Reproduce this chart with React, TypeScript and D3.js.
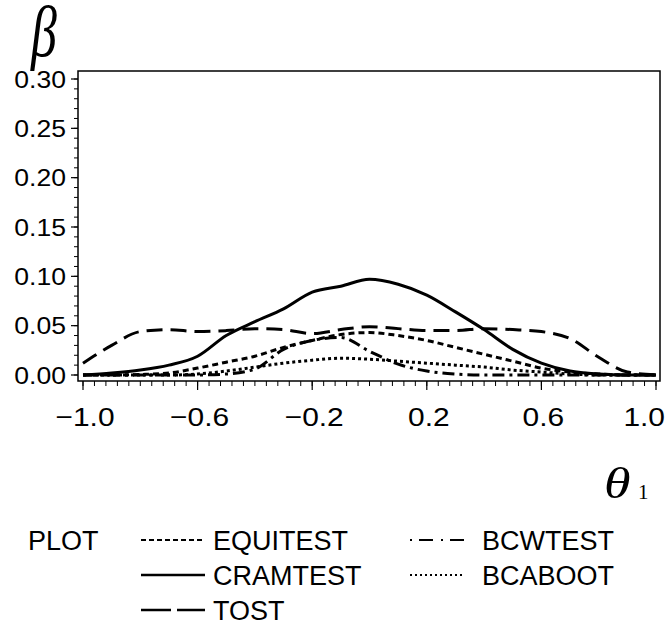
import React from 'react';
import * as d3 from 'd3';

const theta = [-1.0, -0.9, -0.8, -0.7, -0.6, -0.5, -0.4, -0.3, -0.2, -0.1, 0.0, 0.1, 0.2, 0.3, 0.4, 0.5, 0.6, 0.7, 0.8, 0.9, 1.0];
const equitest = [0, 0, 0.0005, 0.002, 0.007, 0.013, 0.019, 0.028, 0.035, 0.041, 0.043, 0.040, 0.035, 0.028, 0.021, 0.014, 0.007, 0.003, 0.001, 0, 0];
const cramtest = [0, 0.002, 0.005, 0.010, 0.019, 0.040, 0.054, 0.067, 0.084, 0.090, 0.097, 0.092, 0.081, 0.064, 0.046, 0.026, 0.012, 0.004, 0.001, 0, 0];
const tost = [0.012, 0.030, 0.044, 0.046, 0.044, 0.045, 0.047, 0.046, 0.042, 0.046, 0.049, 0.047, 0.045, 0.045, 0.047, 0.046, 0.044, 0.037, 0.018, 0.003, 0];
const bcwtest = [0, 0, 0, 0, 0, 0.001, 0.006, 0.026, 0.035, 0.038, 0.024, 0.011, 0.004, 0.001, 0, 0, 0, 0, 0, 0, 0];
const bcaboot = [0, 0, 0, 0, 0.001, 0.004, 0.008, 0.012, 0.015, 0.017, 0.016, 0.014, 0.012, 0.010, 0.008, 0.005, 0.003, 0.001, 0, 0, 0];

const xTickValues = [-1.0, -0.6, -0.2, 0.2, 0.6, 1.0];
const yTickValues = [0, 0.05, 0.10, 0.15, 0.20, 0.25, 0.30];
const seriesNames = ['EQUITEST', 'CRAMTEST', 'TOST', 'BCWTEST', 'BCABOOT'];

const sans = '"Liberation Sans", Arial, Helvetica, sans-serif';
const serif = '"Liberation Serif", "Times New Roman", serif';

export default function App() {
  const x = d3.scaleLinear().domain([-1, 1]).range([83, 656]);
  const y = d3.scaleLinear().domain([0, 0.3]).range([375, 79]);
  const frame = { l: 78, r: 660, t: 71, b: 381 };

  const seriesData = [equitest, cramtest, tost, bcwtest, bcaboot];
  const plotDash = ['6,4', null, '16,8', '12,5,3,5', '3,3'];
  const legendDash = ['5,3', null, '30,6', '2,7,14,8', '2,3'];
  const line = d3
    .line<[number, number]>()
    .x((d) => x(d[0]))
    .y((d) => y(d[1]))
    .curve(d3.curveMonotoneX);

  const xMinor = d3.range(0, 51).map((i) => -1 + i * 0.04);
  const yMinor = d3.range(0, 31).map((i) => i * 0.01);
  const fmtX = (v: number) => (v < 0 ? '\u2212' + d3.format('.1f')(-v) : d3.format('.1f')(v));

  const legendPos = [
    { sx: 141, ex: 205, tx: 213, row: 0 },
    { sx: 141, ex: 205, tx: 213, row: 1 },
    { sx: 141, ex: 205, tx: 213, row: 2 },
    { sx: 410, ex: 465, tx: 482, row: 0 },
    { sx: 410, ex: 465, tx: 482, row: 1 },
  ];
  const rowBase = [550, 585, 620];

  return (
    <svg width={670} height={628} style={{ position: 'absolute', left: 0, top: 0, background: '#fff' }}>
      <rect x={0} y={0} width={670} height={628} fill="#fff" />
      {/* frame */}
      <rect x={frame.l} y={frame.t} width={frame.r - frame.l} height={frame.b - frame.t} fill="none" stroke="#000" strokeWidth={1.5} />
      {/* y ticks */}
      {yMinor.map((v, i) => (
        <line key={'ym' + i} x1={frame.l - 4} x2={frame.l} y1={y(v)} y2={y(v)} stroke="#000" strokeWidth={1} />
      ))}
      {yTickValues.map((v) => (
        <g key={'yt' + v}>
          <line x1={frame.l - 7} x2={frame.l} y1={y(v)} y2={y(v)} stroke="#000" strokeWidth={1.2} />
          <g transform={`translate(66, ${y(v) + 8.5}) scale(1.13, 1)`}>
            <text x={0} y={0} textAnchor="end" fontFamily={sans} fontSize={23.5}>
              {d3.format('.2f')(v)}
            </text>
          </g>
        </g>
      ))}
      {/* x ticks */}
      {xMinor.map((v, i) => (
        <line key={'xm' + i} x1={x(v)} x2={x(v)} y1={frame.b} y2={frame.b + 5} stroke="#000" strokeWidth={1} />
      ))}
      {xTickValues.map((v, i) => {
        const last = i === xTickValues.length - 1;
        return (
          <g key={'xt' + v}>
            <line x1={x(v)} x2={x(v)} y1={frame.b} y2={frame.b + 9} stroke="#000" strokeWidth={1.2} />
            <g transform={`translate(${last ? 665 : x(v) + 2}, 426) scale(1.13, 1)`}>
              <text x={0} y={0} textAnchor={last ? 'end' : 'middle'} fontFamily={sans} fontSize={26.5}>
                {fmtX(v)}
              </text>
            </g>
          </g>
        );
      })}
      {/* series */}
      {seriesData.map((vals, si) => (
        <path
          key={seriesNames[si]}
          d={line(theta.map((t, i) => [t, vals[i]] as [number, number])) || ''}
          fill="none"
          stroke="#000"
          strokeWidth={3}
          strokeDasharray={plotDash[si] || undefined}
        />
      ))}
      {/* axis labels */}
      <g transform="translate(31, 56) scale(0.72, 1)">
        <text x={0} y={0} fontFamily={serif} fontStyle="italic" fontSize={72}>
          β
        </text>
      </g>
      <g transform="translate(604, 498) scale(1.2, 1)">
        <text x={0} y={0} fontFamily={serif} fontStyle="italic" fontSize={45}>
          θ
        </text>
      </g>
      <text x={638} y={499} fontFamily={serif} fontSize={21}>
        1
      </text>
      {/* legend */}
      <text x={28} y={rowBase[0]} fontFamily={sans} fontSize={27}>
        PLOT
      </text>
      {seriesNames.map((name, si) => {
        const p = legendPos[si];
        const base = rowBase[p.row];
        return (
          <g key={'lg' + name}>
            <line
              x1={p.sx}
              x2={p.ex}
              y1={base - 10}
              y2={base - 10}
              stroke="#000"
              strokeWidth={si === 1 || si === 2 ? 2.5 : 2}
              strokeDasharray={legendDash[si] || undefined}
            />
            <text x={p.tx} y={base} fontFamily={sans} fontSize={27}>
              {name}
            </text>
          </g>
        );
      })}
    </svg>
  );
}
